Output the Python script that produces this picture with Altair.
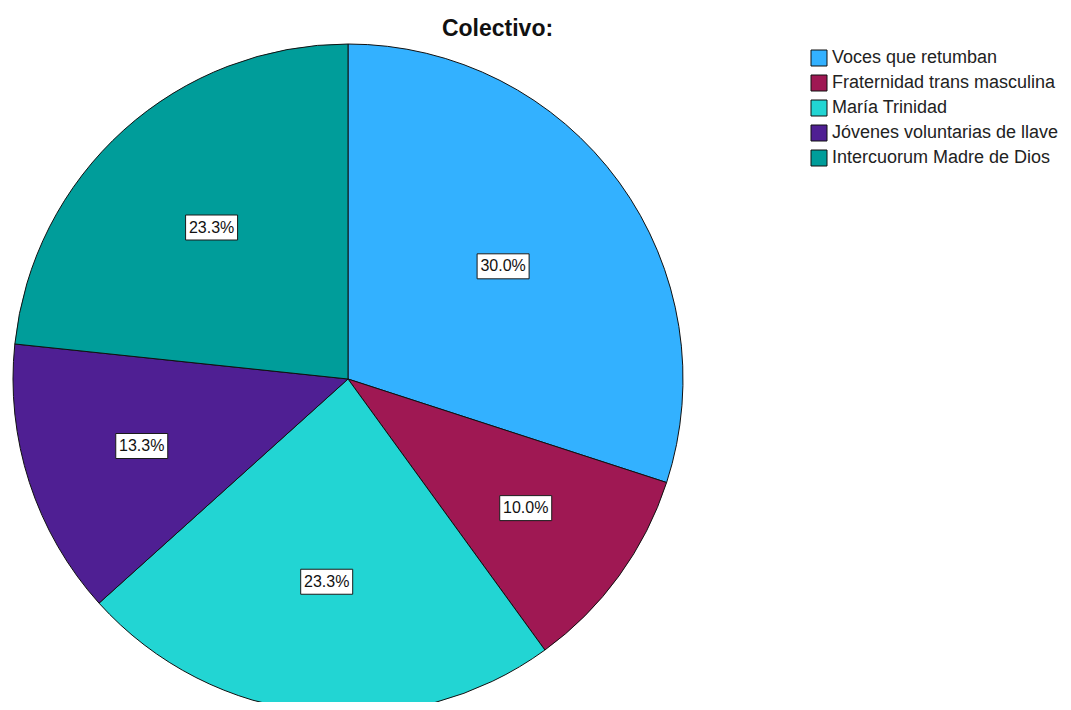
import altair as alt
import pandas as pd

categories = [
    "Voces que retumban",
    "Fraternidad trans masculina",
    "María Trinidad",
    "Jóvenes voluntarias de llave",
    "Intercuorum Madre de Dios",
]
counts = [9, 3, 7, 4, 7]
colors = ["#33b1ff", "#9f1853", "#22d5d3", "#4f1f93", "#009d9a"]
title_text = "Colectivo:"

df = pd.DataFrame({"Colectivo": categories, "n": counts, "idx": list(range(len(categories)))})

CX, CY, R = 340, 371, 335
BW, BH = 52, 25
FONT = "Liberation Sans"

base = alt.Chart(df)

pie = base.mark_arc(outerRadius=R, stroke="#111111", strokeWidth=1).encode(
    theta=alt.Theta("n:Q", stack=True),
    color=alt.Color(
        "Colectivo:N",
        sort=categories,
        scale=alt.Scale(domain=categories, range=colors),
        legend=alt.Legend(
            orient="none",
            legendX=802,
            legendY=41,
            title=None,
            symbolType="square",
            symbolSize=256,
            symbolStrokeColor="#111111",
            symbolStrokeWidth=1,
            symbolOpacity=1,
            labelFont=FONT,
            labelFontSize=18,
            labelColor="#222222",
            labelOffset=4,
            labelLimit=400,
            rowPadding=5,
            padding=0,
        ),
    ),
    order=alt.Order("idx:Q"),
    x=alt.value(CX),
    y=alt.value(CY),
)

lab = (
    base.transform_joinaggregate(total="sum(n)")
    .transform_window(cum="sum(n)", sort=[alt.SortField("idx")])
    .transform_calculate(
        pct="datum.n / datum.total",
        mid="(datum.cum - datum.n / 2) / datum.total * 2 * PI",
        half="datum.n / datum.total * PI",
    )
    .transform_calculate(rc=f"2 * {R} * sin(datum.half) / (3 * datum.half)")
    .transform_calculate(
        lx=f"{CX} + datum.rc * sin(datum.mid)",
        ly=f"{CY} - datum.rc * cos(datum.mid)",
    )
    .transform_calculate(
        bx1=f"datum.lx - {BW / 2}",
        bx2=f"datum.lx + {BW / 2}",
        by1=f"datum.ly - {BH / 2}",
        by2=f"datum.ly + {BH / 2}",
    )
)

boxes = lab.mark_rect(fill="white", stroke="#1a1a1a", strokeWidth=1).encode(
    x=alt.X("bx1:Q", scale=None),
    x2="bx2:Q",
    y=alt.Y("by1:Q", scale=None),
    y2="by2:Q",
)

texts = lab.mark_text(font=FONT, fontSize=16, color="#111111", baseline="middle", align="center").encode(
    x=alt.X("lx:Q", scale=None),
    y=alt.Y("ly:Q", scale=None),
    text=alt.Text("pct:Q", format=".1%"),
)

title = alt.Chart(pd.DataFrame({"t": [title_text]})).mark_text(
    font=FONT, fontSize=23, fontWeight="bold", color="#111111", baseline="alphabetic", align="center"
).encode(text="t:N", x=alt.value(489.5), y=alt.value(28))

chart = (
    alt.layer(pie, boxes, texts, title)
    .properties(width=1055, height=694, autosize=alt.AutoSizeParams(type="none"), padding=0, background="white")
    .configure_view(stroke=None)
)

chart.save("out.html", embed_options={"renderer": "svg", "actions": False})
